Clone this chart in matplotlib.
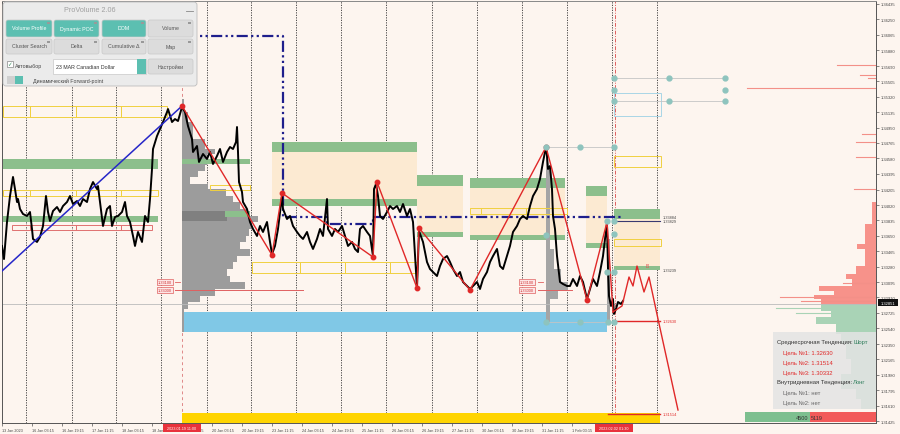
import matplotlib
matplotlib.use("Agg")
import matplotlib.pyplot as plt
from matplotlib.patches import Rectangle, FancyBboxPatch

plt.rcParams["font.family"] = ["Liberation Sans", "DejaVu Sans"]

W, H = 900, 435
BG = "#FDF5EF"

# ---- price line (x = bar position, price) ----
PRICE_X = [2, 4, 7, 10, 13, 15, 17, 18, 20, 23, 27, 30, 32, 33, 37, 40, 43, 46, 48, 50,
           53, 57, 60, 63, 67, 70, 73, 77, 80, 83, 87, 90, 93, 97, 98, 100, 103, 107, 110, 112,
           115, 118, 122, 125, 127, 130, 133, 135, 138, 142, 145, 148, 150, 152, 153, 157, 160, 163, 167, 168,
           172, 175, 178, 182,
           185, 188, 192, 193, 197, 199, 203, 207, 210, 213, 217, 220, 223, 227, 230, 233, 236, 237, 238, 239,
           242, 243, 247, 250, 253, 257, 260, 263, 267, 270, 272, 275, 278, 282, 283, 287, 290, 293, 297, 300,
           303, 307, 310, 313, 317, 320, 323, 327, 328, 332, 335, 338, 342, 345, 348, 352, 355, 358, 360, 363,
           367, 370, 373, 374, 376, 378, 380, 383, 387, 390, 393, 397, 400, 403, 407, 410, 413, 417, 419, 423,
           427, 430, 433, 437, 440, 443, 447, 450,
           453, 457, 460, 463, 467, 470, 473, 477, 480, 483, 487, 490, 493, 497, 500, 503, 507, 510, 513, 517,
           520, 523, 527, 530, 533, 537, 540, 543, 545, 546, 547, 548, 550, 552, 553, 555, 557, 560, 563, 567,
           570, 573, 577, 580, 583, 587, 590, 593, 597, 600, 603, 605, 607, 608, 609, 611, 613, 614, 616, 618,
           621, 623]
PRICE = [1.33528, 1.33371, 1.33816, 1.34128, 1.34357, 1.34212, 1.34056, 1.34092, 1.33972, 1.33912,
         1.33888, 1.33936, 1.33732, 1.33612, 1.33576, 1.33636, 1.33768, 1.34128, 1.33936, 1.33828,
         1.33948, 1.33996, 1.33936, 1.34008, 1.34056, 1.34128, 1.34032, 1.34068, 1.34008, 1.34092,
         1.34056, 1.34212, 1.34296, 1.34212, 1.34248, 1.34056, 1.33768, 1.33972, 1.34008, 1.33768,
         1.33876, 1.33888, 1.33936, 1.34056, 1.33888, 1.33816, 1.33648, 1.33528, 1.33696, 1.33576,
         1.33888, 1.33816, 1.34092, 1.34453, 1.34693, 1.34849, 1.34933, 1.35017, 1.35137, 1.35173,
         1.35017, 1.35053, 1.35029, 1.35197,
         1.35137, 1.34969, 1.34813, 1.34657, 1.34729, 1.34537, 1.34633, 1.34573, 1.34657, 1.34513,
         1.34609, 1.34693, 1.34537, 1.34657, 1.34717, 1.34693, 1.34777, 1.34957, 1.34657, 1.34296,
         1.34176, 1.34056, 1.33972, 1.33816, 1.33732, 1.33648, 1.33768, 1.33696, 1.33816, 1.33576,
         1.33431, 1.33528, 1.33732, 1.34128, 1.33972, 1.33852, 1.33888, 1.33768, 1.33696, 1.33648,
         1.33612, 1.33696, 1.33576, 1.33492, 1.33612, 1.33732, 1.33648, 1.34092, 1.33732, 1.33648,
         1.33732, 1.33696, 1.33768, 1.33648, 1.33528, 1.33576, 1.33492, 1.33455, 1.33732, 1.33768,
         1.33696, 1.33648, 1.33407, 1.34212, 1.34272, 1.34128, 1.33888, 1.33852, 1.33936, 1.34008,
         1.33972, 1.34008, 1.33936, 1.34032, 1.33888, 1.33972, 1.33816, 1.33023, 1.33708, 1.33576,
         1.33335, 1.33251, 1.33215, 1.33167, 1.33287, 1.33371, 1.33407, 1.33335,
         1.33251, 1.33167, 1.33215, 1.33095, 1.33047, 1.33011, 1.33047, 1.33095, 1.33011, 1.33131,
         1.33215, 1.33335, 1.33407, 1.33492, 1.33287, 1.33251, 1.33407, 1.33528, 1.33696, 1.33768,
         1.33852, 1.33888, 1.33852, 1.34008, 1.34128, 1.34212, 1.34333, 1.34537, 1.34657, 1.34717,
         1.34609, 1.34453, 1.34489, 1.34212, 1.33888, 1.33732, 1.33407, 1.33095, 1.33071, 1.33047,
         1.33047, 1.33131, 1.33047, 1.33167, 1.33095, 1.32891, 1.33011, 1.33131, 1.33047, 1.33215,
         1.33407, 1.33612, 1.33792, 1.33251, 1.32927, 1.32807, 1.32891, 1.32711, 1.32771, 1.32855,
         1.32831, 1.32867]

# ---- zigzag / forecast / trend lines ----
ZIG_X = [182, 272, 282, 373, 377, 417, 419, 470, 546, 587, 607, 613]
ZIG_P = [1.35210, 1.33419, 1.34164, 1.33395, 1.34296, 1.33023, 1.33744, 1.32999, 1.34717, 1.32879,
         1.33816, 1.32735]
FORE_X = [613, 622, 629, 633, 637, 644, 649, 658, 678]
FORE_P = [1.32735, 1.32807, 1.33155, 1.33047, 1.33287, 1.32975, 1.33155, 1.32651, 1.31557]
BLUE_X = [2, 182]
BLUE_P = [1.33227, 1.35210]
NAVY_X = [160, 283, 283, 327, 327, 373, 373, 622]
NAVY_P = [1.36051, 1.36051, 1.33876, 1.33876, 1.33792, 1.33792, 1.33876, 1.33876]

# ---- zones ----
BAND_X0 = [3, 3, 182, 225]
BAND_X1 = [158, 158, 250, 250]
BAND_HI = [1.34573, 1.33888, 1.34573, 1.33948]
BAND_LO = [1.34453, 1.33816, 1.34513, 1.33876]

BLOCK_X0 = [272, 417, 470, 586, 614]
BLOCK_X1 = [417, 463, 565, 607, 660]
BLOCK_HI = [1.34777, 1.34381, 1.34345, 1.34248, 1.33972]
BLOCK_MID_HI = [1.34657, 1.34248, 1.34224, 1.34128, 1.33852]
BLOCK_MID_LO = [1.34092, 1.33696, 1.33660, 1.33564, 1.33287]
BLOCK_LO = [1.34008, 1.33636, 1.33600, 1.33504, 1.33239]

CYAN_X = [182, 607]
CYAN_P = [1.32735, 1.32494]

YELLOW_HI = [1.35210, 1.34200, 1.34260, 1.33335, 1.33984, 1.34609, 1.33612]
YELLOW_LO = [1.35077, 1.34128, 1.34200, 1.33203, 1.33912, 1.34477, 1.33528]
YELLOW_EDGES = [[3, 30, 76, 121, 167], [3, 30, 76, 121, 158], [210, 250],
                [252, 300, 345, 390, 417], [470, 481, 526, 567], [614, 661], [614, 661]]
RED_BOX = (1.33780, 1.33720, [12, 30, 76, 121, 152])
BLUE_BOX = (1.35366, 1.35090, [614, 661])

# ---- volume profiles: (hi, lo, width) ----
PROF1_X = 182
PROF1_HI = [1.35294, 1.35137, 1.35017, 1.34813, 1.34693, 1.34633, 1.34501, 1.34429, 1.34357, 1.34272,
            1.34212, 1.34128, 1.34056, 1.33972, 1.33888, 1.33816, 1.33732, 1.33648, 1.33576, 1.33492,
            1.33407, 1.33335, 1.33251, 1.33167, 1.33095, 1.33011, 1.32927, 1.32855, 1.32771]
PROF1_LO = PROF1_HI[1:] + [1.32494]
PROF1_W = [2, 6, 11, 23, 33, 25, 23, 16, 8, 26, 44, 51, 58, 65, 76, 70, 67, 64, 58, 68,
           55, 51, 45, 48, 63, 33, 18, 6, 2]
PROF2_X = 546
PROF2_HI = [1.34717, 1.34453, 1.33492, 1.33251, 1.33095, 1.32987, 1.32891]
PROF2_LO = [1.34453, 1.33492, 1.33251, 1.33095, 1.32987, 1.32891, 1.32614]
PROF2_W = [2, 4, 8, 15, 22, 12, 4]

# ---- right side volume histogram ----
RED_HI = [1.34056, 1.33792, 1.33552, 1.33492, 1.33287, 1.33191, 1.33131, 1.33047, 1.32987, 1.32939, 1.32891]
RED_LO = [1.33792, 1.33552, 1.33492, 1.33287, 1.33191, 1.33131, 1.33047, 1.32987, 1.32939, 1.32891, 1.32831]
RED_W = [4, 11, 19, 11, 20, 30, 24, 57, 42, 62, 55]
RED_SPIKE_P = [1.35702, 1.35582, 1.35546, 1.35426, 1.34873, 1.34777, 1.34597, 1.34212, 1.33083, 1.32915, 1.32867]
RED_SPIKE_W = [39, 16, 8, 129, 14, 20, 20, 22, 33, 96, 75]
GREEN_HI = [1.32831, 1.32747, 1.32675, 1.32591, 1.32471, 1.32351, 1.32170, 1.31990, 1.31810, 1.31690]
GREEN_LO = [1.32747, 1.32675, 1.32591, 1.32471, 1.32351, 1.32170, 1.31990, 1.31810, 1.31690, 1.31569]
GREEN_W = [55, 45, 60, 40, 35, 30, 25, 35, 20, 15]
GREEN_SPIKE_P = [1.32783, 1.32723]
GREEN_SPIKE_W = [100, 80]

# ---- circles of the level tool ----
CIRCLE_X = [614, 669, 725, 614, 725, 614, 669, 725, 546, 580, 614, 546, 614,
            607, 614, 607, 614, 546, 580, 608, 614]
CIRCLE_P = [1.35546, 1.35546, 1.35546, 1.35402, 1.35402, 1.35270, 1.35270, 1.35270,
            1.34717, 1.34717, 1.34717, 1.33660, 1.33672, 1.33828, 1.33828, 1.33215, 1.33215,
            1.32614, 1.32614, 1.32614, 1.32614]
FIB_P = [1.35546, 1.35270, 1.34717, 1.32614]
FIB_X0 = [614, 614, 546, 546]
FIB_X1 = [725, 725, 614, 614]

# ---- axes ----
GRID_X = [26, 72, 116, 161, 207, 251, 296, 341, 386, 432, 477, 522, 567, 612, 657]
TICK_X = [2 + 30 * k for k in range(20)]
TICK_LABELS = ["13 Jan 2023", "16 Jan 03:15", "16 Jan 19:15", "17 Jan 11:15", "18 Jan 03:15",
               "18 Jan 19:15", "19 Jan 11:15", "20 Jan 03:15", "20 Jan 19:15", "23 Jan 11:15",
               "24 Jan 03:15", "24 Jan 19:15", "25 Jan 11:15", "26 Jan 03:15", "26 Jan 19:15",
               "27 Jan 11:15", "30 Jan 03:15", "30 Jan 19:15", "31 Jan 11:15", "1 Feb 03:15"]
PRICE_TICKS = [1.36435, 1.36250, 1.36065, 1.35880, 1.35690, 1.35505, 1.35320, 1.35135, 1.34950,
               1.34765, 1.34580, 1.34395, 1.34205, 1.34020, 1.33835, 1.33650, 1.33465, 1.33280,
               1.33095, 1.32910, 1.32725, 1.32540, 1.32350, 1.32165, 1.31980, 1.31795, 1.31610,
               1.31425]
P_TOP, P_BOT = 1.36471, 1.31401
LAST_PRICE = 1.32851
BID_LINE = 1.32831

fig = plt.figure(figsize=(W / 100, H / 100), dpi=100, facecolor=BG)
ax = fig.add_axes([2 / W, 11 / H, 874 / W, 422 / H], facecolor=BG)
ax.set_xlim(2, 876)
ax.set_ylim(P_BOT, P_TOP)

# vertical separators
for gx in GRID_X:
    ax.axvline(gx, color="#333333", lw=0.6, ls=(0, (1.5, 1.5)), zorder=1)
ax.axvline(182, color="#E08888", lw=0.7, ls=(0, (3, 3)), zorder=1)
ax.axvline(615, color="#E06060", lw=0.7, ls=(0, (4, 1.5, 1, 1.5)), zorder=1)

# zones
for x0, x1, hi, mhi, mlo, lo in zip(BLOCK_X0, BLOCK_X1, BLOCK_HI, BLOCK_MID_HI, BLOCK_MID_LO, BLOCK_LO):
    ax.add_patch(Rectangle((x0, mlo), x1 - x0, mhi - mlo, fc="#FCEAD2", ec="none", zorder=1.5))
    ax.add_patch(Rectangle((x0, mhi), x1 - x0, hi - mhi, fc="#8CBF8C", ec="none", zorder=2))
    ax.add_patch(Rectangle((x0, lo), x1 - x0, mlo - lo, fc="#8CBF8C", ec="none", zorder=2))
ax.add_patch(Rectangle((CYAN_X[0], CYAN_P[1]), CYAN_X[1] - CYAN_X[0], CYAN_P[0] - CYAN_P[1],
                       fc="#80C8E6", ec="none", zorder=1.5))
ax.add_patch(Rectangle((182, P_BOT), 478, 1.31521 - P_BOT, fc="#FFD400", ec="none", zorder=1.5))

# volume profiles
ax.barh(PROF1_LO, PROF1_W, height=[h - l for h, l in zip(PROF1_HI, PROF1_LO)], left=PROF1_X,
        align="edge", color="#9C9C9C", lw=0, zorder=2.2)
ax.add_patch(Rectangle((182, 1.33828), 45, 1.33948 - 1.33828, fc="#808080", ec="none", zorder=2.3))
ax.barh(PROF2_LO, PROF2_W, height=[h - l for h, l in zip(PROF2_HI, PROF2_LO)], left=PROF2_X,
        align="edge", color="#A5A5A5", lw=0, zorder=2.2)
ax.add_patch(Rectangle((607, 1.32614), 3, 1.33612 - 1.32614, fc="#A5A5A5", ec="none", zorder=2.2))

for x0, x1, hi, lo in zip(BAND_X0, BAND_X1, BAND_HI, BAND_LO):
    ax.add_patch(Rectangle((x0, lo), x1 - x0, hi - lo, fc="#8CBF8C", ec="none", zorder=2.4))

# outlined boxes
for hi, lo, edges in zip(YELLOW_HI, YELLOW_LO, YELLOW_EDGES):
    for a, b in zip(edges[:-1], edges[1:]):
        ax.add_patch(Rectangle((a, lo), b - a, hi - lo, fc="none", ec="#F0D040", lw=0.7, zorder=3))
for a, b in zip(RED_BOX[2][:-1], RED_BOX[2][1:]):
    ax.add_patch(Rectangle((a, RED_BOX[1]), b - a, RED_BOX[0] - RED_BOX[1], fc="none", ec="#E07070",
                           lw=0.7, zorder=3))
ax.add_patch(Rectangle((BLUE_BOX[2][0], BLUE_BOX[1]), BLUE_BOX[2][1] - BLUE_BOX[2][0],
                       BLUE_BOX[0] - BLUE_BOX[1], fc="none", ec="#A9D6E6", lw=0.7, zorder=3))

# right histogram
ax.barh(RED_LO, RED_W, height=[h - l for h, l in zip(RED_HI, RED_LO)],
        left=[876 - w for w in RED_W], align="edge", color="#F7928A", lw=0, zorder=2)
for p, w in zip(RED_SPIKE_P, RED_SPIKE_W):
    ax.plot([876 - w, 876], [p, p], color="#F39088", lw=0.8, zorder=2)
ax.barh(GREEN_LO, GREEN_W, height=[h - l for h, l in zip(GREEN_HI, GREEN_LO)],
        left=[876 - w for w in GREEN_W], align="edge", color="#A9D3B6", lw=0, zorder=2)
for p, w in zip(GREEN_SPIKE_P, GREEN_SPIKE_W):
    ax.plot([876 - w, 876], [p, p], color="#A9D3B6", lw=0.8, zorder=2)

ax.axhline(BID_LINE, color="#BBBBBB", lw=0.6, zorder=2.5)

# level tool
for p, x0, x1 in zip(FIB_P, FIB_X0, FIB_X1):
    ax.plot([x0, x1], [p, p], color="#C4C4C4", lw=0.6, zorder=3)
ax.plot([614, 660], [1.33829, 1.33829], color="#3A3A70", lw=0.8, zorder=3)

# navy dash-dot level
ax.plot(NAVY_X, NAVY_P, color="#1E1E8C", lw=1.6, ls=(0, (5, 1.5, 1, 1.5, 1, 1.5)), zorder=4)

# price
ax.plot(PRICE_X, PRICE, color="black", lw=1.4, zorder=5)

# trend lines
ax.plot(BLUE_X, BLUE_P, color="#2626C8", lw=1.1, zorder=6)
ax.plot(ZIG_X, ZIG_P, color="#E02828", lw=1.0, zorder=6)
ax.plot(ZIG_X[:-2], ZIG_P[:-2], "o", color="#E02828", ms=3.2, zorder=6)
ax.plot(FORE_X, FORE_P, color="#E02828", lw=1.0, zorder=6)
ax.plot([613, 660], [1.32630, 1.32630], color="#E02828", lw=1.0, zorder=6)
ax.plot([608, 660], [1.31514, 1.31514], color="#E02828", lw=1.0, zorder=6)
ax.plot(CIRCLE_X, CIRCLE_P, "o", color="#8EC4BE", ms=3.5, zorder=7)
ax.text(647, 1.33290, "B", color="#E05050", fontsize=3.5, ha="center", va="center", zorder=7)

# POC lines and labels
ax.plot([175, 303], [1.33000, 1.33000], color="#E06060", lw=0.7, zorder=6)
ax.plot([538, 572], [1.33000, 1.33000], color="#E06060", lw=0.7, zorder=6)
for lx, sx in [(165, 175), (527, 538)]:
    ax.plot([sx, sx + 5], [1.33100, 1.33100], color="#E06060", lw=0.6, zorder=6)
    for p, t in [(1.33100, "1.33100"), (1.33000, "1.33000")]:
        ax.text(lx, p, t, fontsize=2.8, color="#D03030", ha="center", va="center", zorder=7,
                bbox=dict(boxstyle="square,pad=0.25", fc="#FDE6E6", ec="#E06060", lw=0.5))

for p, t, c in [(1.33872, "1.33884", "#444444"), (1.33822, "1.33829", "#444444"),
                (1.33239, "1.33239", "#444444"), (1.32630, "1.32630", "#E02828"),
                (1.31514, "1.31514", "#E02828")]:
    ax.text(663, p, t, fontsize=2.8, color=c, ha="left", va="center", zorder=7)

# axes styling
ax.yaxis.tick_right()
ax.set_yticks(PRICE_TICKS)
ax.set_yticklabels([f"{v:.5f}" for v in PRICE_TICKS], fontsize=3, color="#444444")
ax.set_xticks(TICK_X)
ax.set_xticklabels(TICK_LABELS, fontsize=2.7, color="#444444", ha="left")
ax.tick_params(axis="both", length=2, width=0.5, pad=1.5, color="#555555")
for name, sp in ax.spines.items():
    sp.set_color("#888888" if name == "top" else "#555555")
    sp.set_linewidth(0.7)

# ---- overlay in screen pixels ----
ui = fig.add_axes([0, 0, 1, 1], facecolor="none")
ui.set_xlim(0, W)
ui.set_ylim(H, 0)
ui.axis("off")
renderer = fig.canvas.get_renderer()


def text_after(first, t, **kw):
    """Place text t right after an existing text artist."""
    bb = first.get_window_extent(renderer=renderer)
    x = ui.transData.inverted().transform((bb.x1, bb.y0))[0]
    ui.text(x + 1, first.get_position()[1], t, va="center", **kw)


# time markers on the x axis
for x0, t in [(163, "2023.01.19 11:00"), (595, "2023.02.02 01:30")]:
    ui.add_patch(Rectangle((x0, 425), 38, 8, fc="#E8323C", ec="none"))
    ui.text(x0 + 19, 429.3, t, fontsize=2.7, color="white", ha="center", va="center")

# last price tag
ui.add_patch(Rectangle((878, 300), 20, 7, fc="#111111", ec="none"))
ui.text(888, 303.6, f"{LAST_PRICE:.5f}", fontsize=3, color="white", ha="center", va="center")

# info box
ui.add_patch(Rectangle((773, 333), 103, 77, fc="#E4E4E4", ec="none", alpha=0.85))
t1 = ui.text(777, 343, "Среднесрочная Тенденция:", fontsize=4.2, color="#333333", va="center")
text_after(t1, "Шорт", fontsize=4.2, color="#2E7D5B")
for i, t in enumerate(["Цель №1: 1.32630", "Цель №2: 1.31514", "Цель №3: 1.30332"]):
    ui.text(783, 353 + 10 * i, t, fontsize=4.2, color="#E02828", va="center")
t2 = ui.text(777, 383, "Внутридневная Тенденция:", fontsize=4.2, color="#333333", va="center")
text_after(t2, "Лонг", fontsize=4.2, color="#2E7D5B")
ui.text(783, 393, "Цель №1: нет", fontsize=4.2, color="#666666", va="center")
ui.text(783, 403, "Цель №2: нет", fontsize=4.2, color="#666666", va="center")

# bottom balance bar
ui.add_patch(Rectangle((745, 413), 65, 10, fc="#7DBF8F", ec="none"))
ui.add_patch(Rectangle((810, 413), 66, 10, fc="#F25A5A", ec="none"))
ui.text(808, 418.5, "4500", fontsize=4, color="#333333", ha="right", va="center")
ui.text(811, 418.5, "5119", fontsize=4, color="#333333", ha="left", va="center")

# ProVolume panel
ui.add_patch(FancyBboxPatch((3, 3), 194, 84, boxstyle="round,pad=0,rounding_size=3",
                            fc="#EBEBEB", ec="#BDBDBD", lw=0.6))
ui.text(90, 10.5, "ProVolume 2.06", fontsize=5.2, color="#A0A0A0", ha="center", va="center")
ui.plot([186, 193], [12, 12], color="#888888", lw=0.6)

TEAL = "#5CBFB1"
BTN_X = [(6, 52), (54, 99), (102, 146), (148, 193)]
ROW1 = [("Volume Profile", TEAL), ("Dynamic POC", TEAL), ("DOM", TEAL), ("Volume", "#DCDCDC")]
ROW2 = [("Cluster Search", "#DCDCDC"), ("Delta", "#DCDCDC"), ("Cumulative Δ", "#DCDCDC"),
        ("Map", "#DCDCDC")]
for (y0, y1), row in [((21, 38), ROW1), ((40, 55), ROW2)]:
    for (x0, x1), (t, fc) in zip(BTN_X, row):
        ui.add_patch(FancyBboxPatch((x0, y0), x1 - x0, y1 - y0, boxstyle="round,pad=0,rounding_size=2",
                                    fc=fc, ec="#C8C8C8", lw=0.5))
        ui.text((x0 + x1) / 2, (y0 + y1) / 2 - 0.5, t, fontsize=3.8,
                color="white" if fc == TEAL else "#555555", ha="center", va="center")
        ui.add_patch(Rectangle((x1 - 5, y0 + 1.5), 3, 2.5, fc="#999999", ec="none"))

ui.add_patch(Rectangle((7, 62), 6, 6, fc="white", ec="#888888", lw=0.5))
ui.text(7.5, 65, "✓", fontsize=4, color="#2E8B57", va="center", family=["DejaVu Sans"])
ui.text(15, 66.5, "Автовыбор", fontsize=3.8, color="#444444", va="center")
ui.add_patch(Rectangle((53, 60), 93, 15, fc="white", ec="#C8C8C8", lw=0.5))
ui.add_patch(Rectangle((137, 60), 9, 15, fc=TEAL, ec="none"))
ui.text(56, 67.5, "23 MAR Canadian Dollar", fontsize=3.8, color="#333333", va="center")
ui.add_patch(FancyBboxPatch((148, 60), 45, 15, boxstyle="round,pad=0,rounding_size=2",
                            fc="#DCDCDC", ec="#C8C8C8", lw=0.5))
ui.text(170.5, 67.5, "Настройки", fontsize=3.8, color="#555555", ha="center", va="center")
ui.add_patch(Rectangle((7, 77), 16, 8, fc="#D0D0D0", ec="none"))
ui.add_patch(Rectangle((15, 77), 8, 8, fc=TEAL, ec="none"))
ui.text(33, 81, "Динамический Forward-point", fontsize=3.8, color="#444444", va="center")

fig.savefig("out.png", dpi=100, facecolor=BG)
